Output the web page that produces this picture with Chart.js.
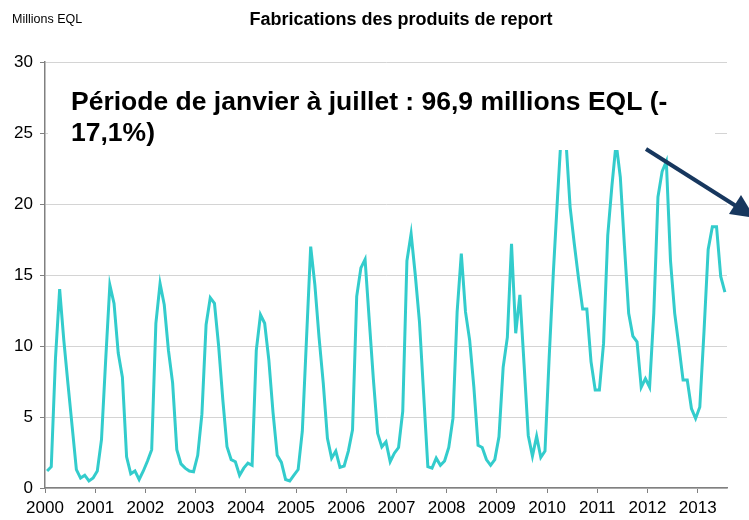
<!DOCTYPE html>
<html lang="fr">
<head>
<meta charset="utf-8">
<title>Fabrications des produits de report</title>
<script src="https://cdn.jsdelivr.net/npm/chart.js@4.4.1/dist/chart.umd.min.js"></script>
<style>
  html, body { margin: 0; padding: 0; background: #fff; }
</style>
</head>
<body>
<canvas id="chart" width="749" height="520"></canvas>
<script>
// années affichées sous l'axe (une graduation tous les 12 mois)
const years = ['2000', '2001', '2002', '2003', '2004', '2005', '2006',
  '2007', '2008', '2009', '2010', '2011', '2012', '2013'];

// fabrications mensuelles, millions EQL (janvier 2000 -> juillet 2013)
const fabrications = [
  1.2, 1.5, 9.1, 14.0, 10.4, 7.3, 4.3, 1.3, 0.7, 0.9, 0.5, 0.7,      // 2000
  1.2, 3.4, 9.0, 14.3, 13.0, 9.5, 7.8, 2.2, 1.0, 1.2, 0.6, 1.2,      // 2001
  1.9, 2.7, 11.6, 14.4, 12.9, 9.7, 7.4, 2.7, 1.7, 1.4, 1.2, 1.15,    // 2002
  2.3, 5.2, 11.5, 13.4, 13.0, 10.0, 6.2, 2.9, 2.0, 1.85, 0.9, 1.4,   // 2003
  1.75, 1.6, 9.7, 12.2, 11.6, 9.0, 5.3, 2.3, 1.8, 0.6, 0.5, 0.9,     // 2004
  1.3, 4.0, 10.5, 17.0, 14.3, 10.6, 7.4, 3.5, 2.1, 2.6, 1.45, 1.55,  // 2005
  2.6, 4.1, 13.5, 15.5, 16.1, 11.8, 7.6, 3.85, 2.9, 3.25, 1.85, 2.45, // 2006
  2.85, 5.4, 16.0, 17.9, 15.0, 11.7, 6.6, 1.5, 1.4, 2.1, 1.6, 1.9,   // 2007
  2.85, 4.9, 12.4, 16.5, 12.4, 10.4, 7.1, 3.0, 2.85, 2.0, 1.6, 2.0,  // 2008
  3.6, 8.5, 10.6, 17.2, 10.9, 13.6, 8.7, 3.7, 2.25, 3.65, 2.15, 2.6, // 2009
  9.2, 15.2, 20.5, 25.5, 24.5, 19.8, 17.2, 14.8, 12.6, 12.6, 8.9, 6.9, // 2010
  6.9, 10.2, 17.8, 21.3, 24.3, 21.9, 17.0, 12.3, 10.7, 10.3, 7.1, 7.7, // 2011
  7.1, 12.3, 20.5, 22.3, 23.0, 16.0, 12.3, 10.0, 7.6, 7.6, 5.6, 4.9, // 2012
  5.7, 11.0, 16.8, 18.4, 18.4, 14.9, 13.8                            // 2013
];

const titre = 'Fabrications des produits de report';
const unite = 'Millions EQL';
const encadre = ['Période de janvier à juillet : 96,9 millions EQL (-', '17,1%)'];

const points = fabrications.map((v, i) => ({ x: i, y: v }));

// encadré blanc, texte, flèche et en-têtes
const decor = {
  id: 'decor',
  afterDatasetsDraw(chart) {
    const ctx = chart.ctx;
    ctx.save();
    ctx.fillStyle = '#fff';
    ctx.fillRect(48, 65, 667, 85);

    ctx.fillStyle = '#000';
    ctx.font = 'bold 26.5px "Liberation Sans", Arial, sans-serif';
    ctx.textBaseline = 'alphabetic';
    ctx.textAlign = 'left';
    ctx.fillText(encadre[0], 71, 110);
    ctx.fillText(encadre[1], 71, 141);

    // flèche
    ctx.strokeStyle = '#17375e';
    ctx.fillStyle = '#17375e';
    ctx.lineWidth = 4;
    ctx.beginPath();
    ctx.moveTo(646, 149);
    ctx.lineTo(736, 206);
    ctx.stroke();
    ctx.beginPath();
    ctx.moveTo(755, 218);
    ctx.lineTo(729, 214);
    ctx.lineTo(741, 195);
    ctx.closePath();
    ctx.fill();

    ctx.fillStyle = '#000';
    ctx.font = 'bold 18px "Liberation Sans", Arial, sans-serif';
    ctx.textAlign = 'center';
    ctx.fillText(titre, 401, 25);
    ctx.font = '12.5px "Liberation Sans", Arial, sans-serif';
    ctx.textAlign = 'left';
    ctx.fillText(unite, 12, 23);
    ctx.restore();
  }
};

new Chart(document.getElementById('chart'), {
  type: 'line',
  data: {
    datasets: [{
      data: points,
      borderColor: '#33cccc',
      borderWidth: 3,
      pointRadius: 0,
      tension: 0,
      fill: false
    }]
  },
  options: {
    responsive: false,
    animation: false,
    layout: { padding: { top: 62, right: 22, left: 0, bottom: 0 } },
    plugins: { legend: { display: false }, tooltip: { enabled: false } },
    scales: {
      x: {
        type: 'linear',
        min: -0.5,
        max: fabrications.length - 0.5,
        afterBuildTicks: (axis) => {
          axis.ticks = years.map((y, k) => ({ value: k * 12 - 0.5 }));
        },
        afterFit: (scale) => { scale.height = 32; },
        ticks: {
          autoSkip: false,
          maxRotation: 0,
          padding: 5,
          color: '#000',
          font: { family: '"Liberation Sans", Arial, sans-serif', size: 17 },
          callback: (v) => years[Math.round((v + 0.5) / 12)]
        },
        grid: { drawOnChartArea: false, tickLength: 5, tickColor: '#808080' },
        border: { color: '#808080', width: 1.5 }
      },
      y: {
        min: 0,
        max: 30,
        afterFit: (scale) => { scale.width = 45; },
        ticks: {
          stepSize: 5,
          padding: 7,
          color: '#000',
          font: { family: '"Liberation Sans", Arial, sans-serif', size: 17 }
        },
        grid: { color: '#d4d4d4', tickColor: '#808080', tickLength: 5 },
        border: { color: '#808080', width: 1.5 }
      }
    }
  },
  plugins: [decor]
});
</script>
</body>
</html>
